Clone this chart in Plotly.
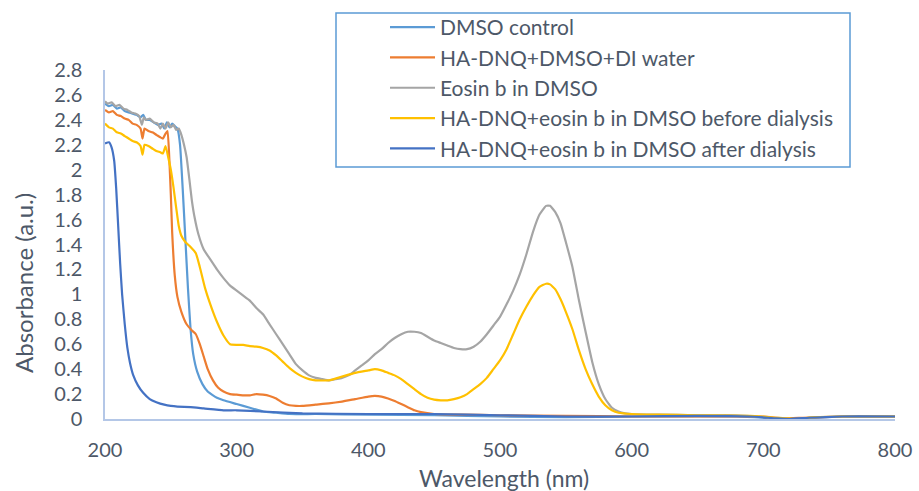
import plotly.graph_objects as go

# ---------------- data ----------------
names = [
    "DMSO control",
    "HA-DNQ+DMSO+DI water",
    "Eosin b in DMSO",
    "HA-DNQ+eosin b in DMSO before dialysis",
    "HA-DNQ+eosin b in DMSO after dialysis",
]
colors = ["#5B9BD5", "#ED7D31", "#A5A5A5", "#FFC000", "#4472C4"]

dmso_wl = [200, 203, 206, 209, 212, 215, 218, 221, 224, 227, 229, 231, 234, 237, 240, 243, 245, 247, 249, 251, 253, 255,
           257, 259, 261, 263, 265, 267, 270, 274, 278, 285, 290, 300, 310, 320, 330, 340, 360, 400, 450, 500, 550, 600,
           650, 680, 700, 715, 725, 740, 760, 800]
dmso_abs = [2.53, 2.51, 2.52, 2.49, 2.50, 2.47, 2.46, 2.45, 2.44, 2.42, 2.44, 2.40, 2.40, 2.38, 2.36, 2.37, 2.33, 2.38, 2.34, 2.37, 2.35, 2.33,
            2.20, 1.85, 1.45, 1.05, 0.72, 0.52, 0.38, 0.28, 0.22, 0.17, 0.15, 0.12, 0.09, 0.06, 0.05, 0.04, 0.04, 0.035, 0.03, 0.02, 0.015, 0.02,
            0.02, 0.02, 0.01, 0.0, 0.0, 0.01, 0.02, 0.02]

water_wl = [200, 203, 206, 209, 212, 215, 218, 221, 224, 227, 228.5, 230, 233, 236, 239, 242, 244, 246, 247.5, 249, 250, 251, 253,
            255, 258, 262, 266, 269, 272, 275, 278, 282, 286, 290, 295, 300, 305, 310, 315, 320, 325, 330, 335, 340, 345, 350,
            360, 370, 380, 390, 400, 405, 410, 415, 420, 425, 430, 435, 440, 450, 470, 500, 550, 600, 700, 715, 730, 760, 800]
water_abs = [2.48, 2.46, 2.47, 2.44, 2.43, 2.41, 2.40, 2.37, 2.36, 2.33, 2.25, 2.33, 2.31, 2.30, 2.28, 2.26, 2.25, 2.29, 2.31, 2.05, 1.80, 1.50, 1.15,
             0.98, 0.86, 0.76, 0.71, 0.68, 0.60, 0.50, 0.40, 0.31, 0.25, 0.22, 0.20, 0.195, 0.19, 0.19, 0.20, 0.195, 0.185, 0.165, 0.13, 0.11, 0.105, 0.105,
             0.115, 0.125, 0.14, 0.16, 0.18, 0.185, 0.18, 0.165, 0.145, 0.12, 0.095, 0.07, 0.055, 0.04, 0.035, 0.03, 0.025, 0.02, 0.02, 0.005, 0.01, 0.02, 0.02]

eosin_wl = [200, 202, 205, 208, 211, 214, 217, 220, 223, 226, 228, 229.5, 231, 234, 237, 240, 242, 244, 246, 248, 250, 252, 254, 256,
            258, 260, 262, 264, 266, 268, 271, 275, 280, 285, 290, 295, 300, 305, 310, 315, 320, 325, 330, 335, 340, 345, 350, 355,
            360, 365, 370, 375, 380, 385, 390, 395, 400, 405, 410, 415, 420, 425, 430, 435, 440, 445, 450, 455, 460, 465, 470, 475,
            480, 485, 490, 495, 500, 505, 510, 515, 520, 525, 530, 535, 538, 542, 546, 550, 555, 560, 565, 570, 575, 580, 585, 590,
            595, 600, 620, 650, 680, 700, 715, 725, 740, 760, 800]
eosin_abs = [2.55, 2.53, 2.54, 2.51, 2.52, 2.49, 2.48, 2.46, 2.45, 2.43, 2.36, 2.42, 2.40, 2.41, 2.38, 2.37, 2.33, 2.37, 2.33, 2.38, 2.34, 2.36, 2.32, 2.33,
             2.28, 2.20, 2.10, 1.93, 1.75, 1.62, 1.48, 1.36, 1.28, 1.20, 1.13, 1.07, 1.03, 0.99, 0.95, 0.89, 0.84, 0.76, 0.68, 0.60, 0.52, 0.44, 0.39, 0.35,
             0.33, 0.32, 0.31, 0.32, 0.33, 0.35, 0.39, 0.43, 0.47, 0.52, 0.56, 0.61, 0.65, 0.68, 0.70, 0.70, 0.69, 0.66, 0.63, 0.61, 0.59, 0.57, 0.56, 0.56,
             0.58, 0.62, 0.68, 0.75, 0.82, 0.92, 1.03, 1.16, 1.32, 1.50, 1.64, 1.71, 1.71, 1.66, 1.57, 1.42, 1.22, 0.95, 0.70, 0.46, 0.28, 0.16, 0.09, 0.06,
             0.045, 0.04, 0.035, 0.03, 0.03, 0.015, 0.0, 0.0, 0.015, 0.02, 0.02]

before_wl = [200, 203, 206, 209, 212, 215, 218, 221, 224, 227, 228.5, 230, 233, 236, 239, 242, 244, 246, 248, 250, 252, 254, 256,
             258, 261, 265, 269, 272, 276, 280, 285, 290, 295, 300, 305, 310, 315, 320, 325, 330, 335, 340, 345, 350, 355, 360,
             370, 380, 390, 400, 405, 410, 415, 420, 425, 430, 435, 440, 445, 450, 455, 460, 465, 470, 475, 480, 485, 490, 495,
             500, 505, 510, 515, 520, 525, 530, 535, 538, 542, 546, 550, 555, 560, 565, 570, 575, 580, 585, 590, 600, 620, 650,
             690, 710, 725, 740, 760, 800]
before_abs = [2.37, 2.34, 2.33, 2.30, 2.29, 2.27, 2.25, 2.23, 2.22, 2.19, 2.12, 2.20, 2.19, 2.17, 2.15, 2.14, 2.13, 2.19, 2.10, 2.00, 1.86, 1.70, 1.55,
              1.47, 1.42, 1.38, 1.33, 1.22, 1.05, 0.92, 0.78, 0.67, 0.60, 0.595, 0.595, 0.585, 0.58, 0.57, 0.55, 0.51, 0.46, 0.41, 0.37, 0.34, 0.32, 0.31,
              0.31, 0.34, 0.37, 0.39, 0.40, 0.39, 0.37, 0.35, 0.32, 0.28, 0.24, 0.20, 0.17, 0.155, 0.15, 0.15, 0.16, 0.175, 0.20, 0.24, 0.28, 0.33, 0.40,
              0.47, 0.56, 0.68, 0.80, 0.90, 0.99, 1.06, 1.085, 1.08, 1.04, 0.96, 0.86, 0.72, 0.55, 0.40, 0.28, 0.18, 0.11, 0.07, 0.05, 0.04, 0.035, 0.03,
              0.025, 0.01, 0.0, 0.015, 0.02, 0.02]

after_wl = [200, 203, 205, 207, 208.5, 210, 211.5, 213, 215, 217, 219, 221.5, 225, 229, 234, 239, 245, 250, 255, 265, 275, 290,
            300, 320, 350, 400, 450, 500, 550, 600, 650, 690, 710, 720, 735, 760, 800]
after_abs = [2.21, 2.22, 2.18, 2.07, 1.85, 1.55, 1.25, 1.00, 0.76, 0.57, 0.45, 0.35, 0.27, 0.21, 0.16, 0.135, 0.115, 0.105, 0.10, 0.095, 0.085, 0.07,
             0.07, 0.06, 0.045, 0.04, 0.04, 0.03, 0.02, 0.02, 0.025, 0.02, 0.005, 0.0, 0.01, 0.02, 0.02]

series_wl = [dmso_wl, water_wl, eosin_wl, before_wl, after_wl]
series_abs = [dmso_abs, water_abs, eosin_abs, before_abs, after_abs]

y_tickvals = [0, 0.2, 0.4, 0.6, 0.8, 1, 1.2, 1.4, 1.6, 1.8, 2, 2.2, 2.4, 2.6, 2.8]
y_ticktext = ["0", "0.2", "0.4", "0.6", "0.8", "1", "1.2", "1.4", "1.6", "1.8", "2", "2.2", "2.4", "2.6", "2.8"]
x_tickvals = [200, 300, 400, 500, 600, 700, 800]
x_title = "Wavelength (nm)"
y_title = "Absorbance (a.u.)"

# ---------------- figure ----------------
FONT = "Lato"
TXT = "#4d5868"
AXIS = "#B4C7E7"
L, R, T, B = 105, 24, 70, 72
PW, PH = 919 - L - R, 491 - T - B


def px(x):
    return (x - L) / PW


def py(y):
    return (491 - B - y) / PH


fig = go.Figure()
for n, c, xs, ys in zip(names, colors, series_wl, series_abs):
    fig.add_trace(go.Scatter(x=xs, y=ys, mode="lines", name=n,
                             line=dict(color=c, width=2.2, shape="spline", smoothing=0.4)))

fig.update_layout(
    width=919, height=491,
    margin=dict(l=L, r=R, t=T, b=B, autoexpand=False),
    paper_bgcolor="white", plot_bgcolor="white",
    font=dict(family=FONT, color=TXT, size=20),
    showlegend=True,
    legend=dict(x=px(385), y=py(7), xanchor="left", yanchor="top",
                bgcolor="rgba(255,255,255,0)", borderwidth=0, itemwidth=45,
                font=dict(family=FONT, size=21, color=TXT),
                tracegroupgap=0),
    xaxis=dict(range=[200, 800], tickvals=x_tickvals, showgrid=False, zeroline=False,
               showline=True, linecolor=AXIS, linewidth=1.5, ticks="",
               ticklabelstandoff=12,
               tickfont=dict(family=FONT, size=20, color=TXT)),
    yaxis=dict(range=[0, 2.8], tickvals=y_tickvals, ticktext=y_ticktext, showgrid=False, zeroline=False,
               showline=True, linecolor=AXIS, linewidth=1.5, ticks="",
               ticklabelstandoff=17,
               tickfont=dict(family=FONT, size=20, color=TXT)),
)

fig.add_annotation(text=x_title, xref="paper", yref="paper", x=px(504), y=py(478),
                   xanchor="center", yanchor="middle", showarrow=False,
                   font=dict(family=FONT, size=23, color=TXT))
fig.add_annotation(text=y_title, xref="paper", yref="paper", x=px(23), y=py(283),
                   xanchor="center", yanchor="middle", showarrow=False, textangle=-90,
                   font=dict(family=FONT, size=24, color=TXT))

# legend frame
fig.add_shape(type="rect", xref="paper", yref="paper",
              x0=px(336), x1=px(850), y0=py(167), y1=py(13),
              line=dict(color="#5B9BD5", width=1.5), fillcolor="rgba(0,0,0,0)", layer="below")

fig.write_html("out.html")
